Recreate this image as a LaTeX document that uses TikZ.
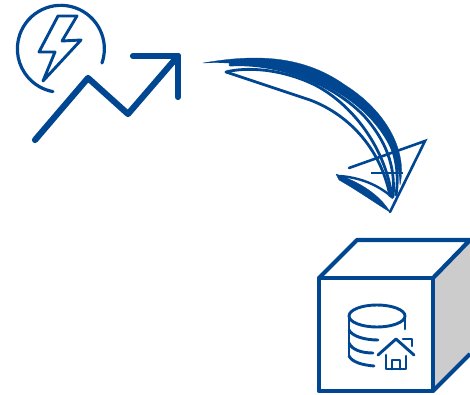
\documentclass[tikz,border=0pt]{standalone}
\usepackage{xcolor}
\definecolor{blueColor}{RGB}{0,70,145}
\definecolor{sideColor}{RGB}{204,204,204}

\begin{document}
\begin{tikzpicture}[
    x=1pt,
    y=-1pt,
    icono/.style={
        draw=blueColor,
        line width=2.9pt,
        line cap=round,
        line join=round
    },
    tendencia/.style={
        draw=blueColor,
        line width=6.2pt,
        line cap=round,
        line join=round
    },
    caja/.style={
        draw=blueColor,
        line width=4.2pt,
        line join=round
    },
    trazo/.style={
        fill=blueColor,
        draw=blueColor,
        line width=0.3pt,
        line join=round
    },
    hilo/.style={
        draw=blueColor,
        line width=2.8pt,
        line cap=round
    }
]
    \useasboundingbox (0,0) rectangle (470,395);

    % rayo y circulo
    \draw[icono, line width=3.2pt] (102,63) arc[start angle=19, end angle=-259.5, radius=43.5];
    \draw[icono] (58,16) -- (77,16) -- (62,41) -- (81,40) -- (43,81) -- (55,52) -- (39,52) -- cycle;

    % flecha de tendencia
    \draw[tendencia] (35,140) -- (88,78) -- (128,114) -- (178,56);
    \draw[tendencia] (133,56) -- (178,56) -- (178,97);

    % flecha dibujada a mano
    \fill[trazo] (203,63) .. controls (250,55) and (300,53) .. (345,85) .. controls (385,110) and (408,150) .. (400,185)
        .. controls (399,150) and (375,115) .. (340,94) .. controls (300,70) and (250,61) .. (203,63) -- cycle;
    \draw[hilo] (230,63) .. controls (275,58) and (325,72) .. (358,100) .. controls (385,125) and (402,155) .. (396,195);
    \draw[hilo] (230,65) .. controls (280,62) and (335,85) .. (365,117) .. controls (385,140) and (396,165) .. (393,197);
    \draw[hilo] (226,72) .. controls (245,67) and (280,68) .. (315,85) .. controls (350,103) and (385,145) .. (392,197);
    \draw[hilo] (226,72) -- (310,100) .. controls (345,113) and (380,145) .. (390,196);
    \draw[blueColor, line width=2.6pt, line join=miter, line cap=round] (349,168) -- (425,141) -- (390,212);
    \draw[blueColor, line width=2.4pt] (371,173) -- (403,173);
    \fill[trazo] (336,174) .. controls (360,182) and (380,195) .. (390,212)
        .. controls (378,205) and (360,192) .. (339,180) -- cycle;
    \draw[blueColor, line width=2.4pt] (340,176) .. controls (365,178) and (382,188) .. (393,198);

    % caja
    \fill[sideColor] (433,278) -- (470,240) -- (470,353) -- (433,391) -- cycle;
    \draw[caja] (319,278) rectangle (433,391);
    \draw[caja] (319,278) -- (357,240) -- (470,240) -- (433,278);
    \draw[caja] (433,391) -- (470,354);

    % base de datos
    \draw[icono] (377,316) ellipse[x radius=28, y radius=11];
    \draw[icono] (349,316) -- (349,356);
    \draw[icono] (405,316) -- (405,329);
    \draw[icono] (349,330) .. controls (352,336) and (364,340) .. (378,340);
    \draw[icono] (349,343) .. controls (352,350) and (362,353) .. (373,353);
    \draw[icono] (349,356) .. controls (352,362) and (362,365) .. (374,366);

    % casa
    \draw[icono] (378,355) -- (396,339) -- (414,355);
    \draw[icono] (386,355) -- (386,369) -- (406,369) -- (406,356);
    \draw[icono] (392,369) -- (392,360) -- (400,360) -- (400,369);
    \draw[icono] (403,339) -- (412,339) -- (412,346);
\end{tikzpicture}
\end{document}
